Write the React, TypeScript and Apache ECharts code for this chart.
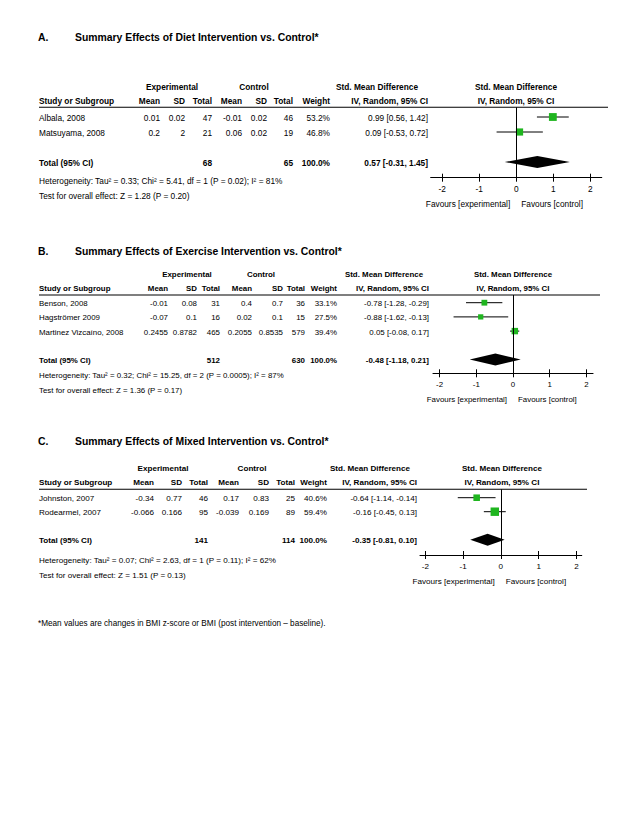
import React, { useEffect, useRef } from "react";
import * as echarts from "echarts";

const FONT = "'Liberation Sans', Arial, Helvetica, sans-serif";
const GREEN = "#1fb51f";

// ---------- Data ----------
const panelLetters = ["A.", "B.", "C."];
const panelTitles = [
  "Summary Effects of Diet Intervention vs. Control*",
  "Summary Effects of Exercise Intervention vs. Control*",
  "Summary Effects of Mixed Intervention vs. Control*",
];
const tickValues = [-2, -1, 0, 1, 2];
const favoursLabels = ["Favours [experimental]", "Favours [control]"];
const footnote = "*Mean values are changes in BMI z-score or BMI (post intervention \u2013 baseline).";

// A. Diet
const dietStudies = ["Albala, 2008", "Matsuyama, 2008"];
const dietExpMean = [0.01, 0.2];
const dietExpSD = [0.02, 2];
const dietExpN = [47, 21];
const dietCtlMean = [-0.01, 0.06];
const dietCtlSD = [0.02, 0.02];
const dietCtlN = [46, 19];
const dietWeight = [53.2, 46.8];
const dietSMD = [0.99, 0.09];
const dietLower = [0.56, -0.53];
const dietUpper = [1.42, 0.72];
const dietTotalN = [68, 65];
const dietPooled = [0.57, -0.31, 1.45];
const dietHet = "Heterogeneity: Tau\u00b2 = 0.33; Chi\u00b2 = 5.41, df = 1 (P = 0.02); I\u00b2 = 81%";
const dietTest = "Test for overall effect: Z = 1.28 (P = 0.20)";

// B. Exercise
const exStudies = ["Benson, 2008", "Hagstr\u00f6mer 2009", "Martinez Vizca\u00edno, 2008"];
const exExpMean = [-0.01, -0.07, 0.2455];
const exExpSD = [0.08, 0.1, 0.8782];
const exExpN = [31, 16, 465];
const exCtlMean = [0.4, 0.02, 0.2055];
const exCtlSD = [0.7, 0.1, 0.8535];
const exCtlN = [36, 15, 579];
const exWeight = [33.1, 27.5, 39.4];
const exSMD = [-0.78, -0.88, 0.05];
const exLower = [-1.28, -1.62, -0.08];
const exUpper = [-0.29, -0.13, 0.17];
const exTotalN = [512, 630];
const exPooled = [-0.48, -1.18, 0.21];
const exHet = "Heterogeneity: Tau\u00b2 = 0.32; Chi\u00b2 = 15.25, df = 2 (P = 0.0005); I\u00b2 = 87%";
const exTest = "Test for overall effect: Z = 1.36 (P = 0.17)";

// C. Mixed
const mixStudies = ["Johnston, 2007", "Rodearmel, 2007"];
const mixExpMean = [-0.34, -0.066];
const mixExpSD = [0.77, 0.166];
const mixExpN = [46, 95];
const mixCtlMean = [0.17, -0.039];
const mixCtlSD = [0.83, 0.169];
const mixCtlN = [25, 89];
const mixWeight = [40.6, 59.4];
const mixSMD = [-0.64, -0.16];
const mixLower = [-1.14, -0.45];
const mixUpper = [-0.14, 0.13];
const mixTotalN = [141, 114];
const mixPooled = [-0.35, -0.81, 0.1];
const mixHet = "Heterogeneity: Tau\u00b2 = 0.07; Chi\u00b2 = 2.63, df = 1 (P = 0.11); I\u00b2 = 62%";
const mixTest = "Test for overall effect: Z = 1.51 (P = 0.13)";

const headerCols = ["Mean", "SD", "Total", "Mean", "SD", "Total", "Weight", "IV, Random, 95% CI"];

// ---------- Layout (pixel positions only) ----------
const layouts = [
  {
    fs: 8.3, titleY: 37, h1Y: 87, h2Y: 101, lineY: 107.3, row1Y: 117, rowH: 15, hetY: 181, testY: 196,
    axisY: 177.7, axisLeft: 430.7, axisRight: 601.7, span: 2.31, lineRight: 608,
    cols: [160, 185, 212, 242, 267, 293, 330, 428], expC: 172, ctlC: 254, smdC: 377, plotC: 516,
  },
  {
    fs: 7.9, titleY: 251, h1Y: 274, h2Y: 288, lineY: 295, row1Y: 302.7, rowH: 14.2, hetY: 375, testY: 390,
    axisY: 373.3, axisLeft: 433, axisRight: 593, span: 2.18, lineRight: 600,
    cols: [168, 197, 220, 252, 283, 305, 337, 429], expC: 187, ctlC: 261, smdC: 384, plotC: 513,
  },
  {
    fs: 8.1, titleY: 441, h1Y: 468, h2Y: 482, lineY: 489.3, row1Y: 497.7, rowH: 14, hetY: 560, testY: 575,
    axisY: 555, axisLeft: 420, axisRight: 581.7, span: 2.14, lineRight: 587,
    cols: [154, 182, 208, 239, 269, 295, 327, 417], expC: 163, ctlC: 252, smdC: 370, plotC: 502,
  },
];
const TABLE_LEFT = 39;
const LETTER_X = 38;
const TITLE_X = 75;

const panels = [
  { studies: dietStudies, expMean: dietExpMean, expSD: dietExpSD, expN: dietExpN, ctlMean: dietCtlMean, ctlSD: dietCtlSD, ctlN: dietCtlN, weight: dietWeight, smd: dietSMD, lo: dietLower, hi: dietUpper, totalN: dietTotalN, pooled: dietPooled, het: dietHet, test: dietTest },
  { studies: exStudies, expMean: exExpMean, expSD: exExpSD, expN: exExpN, ctlMean: exCtlMean, ctlSD: exCtlSD, ctlN: exCtlN, weight: exWeight, smd: exSMD, lo: exLower, hi: exUpper, totalN: exTotalN, pooled: exPooled, het: exHet, test: exTest },
  { studies: mixStudies, expMean: mixExpMean, expSD: mixExpSD, expN: mixExpN, ctlMean: mixCtlMean, ctlSD: mixCtlSD, ctlN: mixCtlN, weight: mixWeight, smd: mixSMD, lo: mixLower, hi: mixUpper, totalN: mixTotalN, pooled: mixPooled, het: mixHet, test: mixTest },
];

const ci = (e: number, l: number, h: number) => `${e.toFixed(2)} [${l.toFixed(2)}, ${h.toFixed(2)}]`;

function txt(text: string, x: number, y: number, o: any = {}) {
  return {
    type: "text",
    x,
    y,
    silent: true,
    style: {
      text,
      fontSize: o.size ?? 8,
      fontFamily: FONT,
      fontWeight: o.bold ? "bold" : "normal",
      fill: "#000",
      align: o.align ?? "left",
      verticalAlign: "middle",
    },
  };
}

function buildOption() {
  const grid: any[] = [];
  const xAxis: any[] = [];
  const yAxis: any[] = [];
  const series: any[] = [];
  const graphic: any[] = [];

  panels.forEach((p, i) => {
    const L = layouts[i];
    const fs = L.fs;
    const n = p.studies.length;
    const rTop = 1 - (L.row1Y - L.lineY) / L.rowH;
    const rBot = 1 + (L.axisY - L.row1Y) / L.rowH;
    const rowPx = (r: number) => L.row1Y + (r - 1) * L.rowH + 1;

    // titles
    graphic.push(txt(panelLetters[i], LETTER_X, L.titleY, { bold: true, size: 10.4 }));
    graphic.push(txt(panelTitles[i], TITLE_X, L.titleY, { bold: true, size: 10.4 }));
    // header row 1
    graphic.push(txt("Experimental", L.expC, L.h1Y, { bold: true, align: "center", size: fs }));
    graphic.push(txt("Control", L.ctlC, L.h1Y, { bold: true, align: "center", size: fs }));
    graphic.push(txt("Std. Mean Difference", L.smdC, L.h1Y, { bold: true, align: "center", size: fs }));
    graphic.push(txt("Std. Mean Difference", L.plotC, L.h1Y, { bold: true, align: "center", size: fs }));
    // header row 2
    graphic.push(txt("Study or Subgroup", TABLE_LEFT, L.h2Y, { bold: true, size: fs }));
    headerCols.forEach((h, k) => graphic.push(txt(h, L.cols[k], L.h2Y, { bold: true, align: "right", size: fs })));
    graphic.push(txt("IV, Random, 95% CI", L.plotC, L.h2Y, { bold: true, align: "center", size: fs }));
    graphic.push({
      type: "line",
      silent: true,
      shape: { x1: TABLE_LEFT, y1: L.lineY, x2: L.lineRight, y2: L.lineY },
      style: { stroke: "#000", lineWidth: 1.1 },
    });

    // study rows
    p.studies.forEach((s, j) => {
      const y = rowPx(j + 1);
      const vals = [
        String(p.expMean[j]), String(p.expSD[j]), String(p.expN[j]),
        String(p.ctlMean[j]), String(p.ctlSD[j]), String(p.ctlN[j]),
        p.weight[j].toFixed(1) + "%", ci(p.smd[j], p.lo[j], p.hi[j]),
      ];
      graphic.push(txt(s, TABLE_LEFT, y, { size: fs }));
      vals.forEach((v, k) => graphic.push(txt(v, L.cols[k], y, { align: "right", size: fs })));
    });

    // total row
    const ty = rowPx(n + 2);
    const totalWeight = p.weight.reduce((a, b) => a + b, 0);
    graphic.push(txt("Total (95% CI)", TABLE_LEFT, ty, { bold: true, size: fs }));
    graphic.push(txt(String(p.totalN[0]), L.cols[2], ty, { bold: true, align: "right", size: fs }));
    graphic.push(txt(String(p.totalN[1]), L.cols[5], ty, { bold: true, align: "right", size: fs }));
    graphic.push(txt(totalWeight.toFixed(1) + "%", L.cols[6], ty, { bold: true, align: "right", size: fs }));
    graphic.push(txt(ci(p.pooled[0], p.pooled[1], p.pooled[2]), L.cols[7], ty, { bold: true, align: "right", size: fs }));
    graphic.push(txt(p.het, TABLE_LEFT, L.hetY, { size: fs }));
    graphic.push(txt(p.test, TABLE_LEFT, L.testY, { size: fs }));

    // favours labels
    const zeroX = (L.axisLeft + L.axisRight) / 2;
    graphic.push(txt(favoursLabels[0], zeroX - 6, L.axisY + 26, { align: "right", size: fs }));
    graphic.push(txt(favoursLabels[1], zeroX + 5, L.axisY + 26, { align: "left", size: fs }));

    // chart parts
    grid.push({ left: L.axisLeft, top: L.lineY, width: L.axisRight - L.axisLeft, height: L.axisY - L.lineY });
    xAxis.push({
      type: "value",
      gridIndex: i,
      min: -L.span,
      max: L.span,
      position: "bottom",
      axisLine: { show: true, onZero: false, lineStyle: { color: "#000", width: 1.1 } },
      axisTick: { show: true, inside: false, length: 4, customValues: tickValues, lineStyle: { color: "#000", width: 1 } },
      axisLabel: { show: true, customValues: tickValues, fontSize: fs, fontFamily: FONT, color: "#000", margin: 7 },
      splitLine: { show: false },
    });
    xAxis.push({
      type: "value",
      gridIndex: i,
      min: -L.span,
      max: L.span,
      position: "bottom",
      axisLine: { show: false, onZero: false },
      axisTick: { show: true, inside: true, length: 4, customValues: tickValues, lineStyle: { color: "#000", width: 1 } },
      axisLabel: { show: false },
      splitLine: { show: false },
    });
    yAxis.push({ type: "value", gridIndex: i, inverse: true, min: rTop, max: rBot, show: false });

    series.push({
      type: "custom",
      xAxisIndex: 2 * i,
      yAxisIndex: i,
      z: 2,
      silent: true,
      encode: { x: [0, 1], y: 2 },
      data: p.studies.map((_, j) => [p.lo[j], p.hi[j], j + 1]),
      renderItem: (_params: any, api: any) => {
        const a = api.coord([api.value(0), api.value(2)]);
        const b = api.coord([api.value(1), api.value(2)]);
        return { type: "line", shape: { x1: a[0], y1: a[1], x2: b[0], y2: b[1] }, style: { stroke: "#000", lineWidth: 1 } };
      },
    });
    series.push({
      type: "scatter",
      xAxisIndex: 2 * i,
      yAxisIndex: i,
      z: 4,
      silent: true,
      symbol: "rect",
      symbolSize: (v: number[]) => 2.5 + v[2] * 0.1,
      itemStyle: { color: GREEN, opacity: 1 },
      data: p.studies.map((_, j) => [p.smd[j], j + 1, p.weight[j]]),
      markLine: {
        silent: true,
        symbol: "none",
        label: { show: false },
        lineStyle: { color: "#000", width: 1, type: "solid" },
        data: [{ xAxis: 0 }],
      },
    });
    series.push({
      type: "custom",
      xAxisIndex: 2 * i,
      yAxisIndex: i,
      z: 3,
      silent: true,
      encode: { x: [0, 1, 2], y: 3 },
      data: [[p.pooled[1], p.pooled[0], p.pooled[2], n + 2]],
      renderItem: (_params: any, api: any) => {
        const y = api.value(3);
        const l = api.coord([api.value(0), y]);
        const c = api.coord([api.value(1), y]);
        const r = api.coord([api.value(2), y]);
        const h = 6;
        return {
          type: "polygon",
          shape: { points: [[l[0], l[1]], [c[0], c[1] - h], [r[0], r[1]], [c[0], c[1] + h]] },
          style: { fill: "#000" },
        };
      },
    });
  });

  graphic.push(txt(footnote, LETTER_X, 623, { size: 8.2 }));

  return {
    animation: false,
    backgroundColor: "#fff",
    grid,
    xAxis,
    yAxis,
    series,
    graphic,
  };
}

export default function App() {
  const ref = useRef<HTMLDivElement>(null);
  useEffect(() => {
    if (!ref.current) return;
    const chart = echarts.init(ref.current, undefined, { renderer: "svg" });
    chart.setOption(buildOption() as any);
    return () => chart.dispose();
  }, []);
  return (
    <div
      ref={ref}
      style={{ position: "fixed", left: 0, top: 0, width: 638, height: 826, background: "#fff" }}
    />
  );
}
